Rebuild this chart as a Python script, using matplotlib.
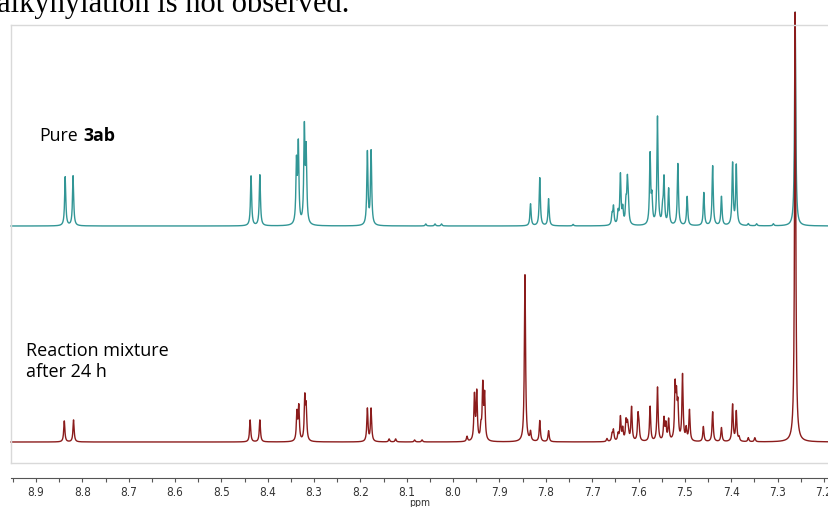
import numpy as np
import matplotlib.pyplot as plt

# peak lists: (ppm, height in px above the baseline)
pure_ppm = [8.837, 8.820, 8.436, 8.417, 8.338, 8.334, 8.321, 8.317, 8.185, 8.177,
            8.059, 8.039, 8.025, 7.833, 7.813, 7.794, 7.741,
            7.657, 7.654, 7.644, 7.639, 7.634, 7.627, 7.624, 7.622,
            7.575, 7.571, 7.559, 7.548, 7.545, 7.535, 7.515, 7.495,
            7.459, 7.440, 7.421, 7.397, 7.389, 7.363, 7.345, 7.309, 7.262]
pure_height = [49, 50, 50, 51, 60, 78, 94, 72, 73, 74,
               2, 2, 2, 22, 48, 27, 1.5,
               10, 18, 12, 50, 15, 20, 40, 18,
               70, 25, 108, 14, 46, 36, 62, 29,
               33, 60, 29, 62, 60, 2, 2, 2, 214]

mix_ppm = [8.839, 8.819, 8.438, 8.417, 8.337, 8.333, 8.320, 8.317, 8.185, 8.177,
           8.138, 8.124, 8.083, 8.067, 7.970, 7.954, 7.949, 7.940, 7.936, 7.932,
           7.845, 7.833, 7.813, 7.794,
           7.668, 7.657, 7.654, 7.644, 7.639, 7.634, 7.627, 7.624, 7.622,
           7.615, 7.601, 7.599, 7.575, 7.559, 7.545, 7.541, 7.535,
           7.521, 7.518, 7.515, 7.505, 7.497, 7.490,
           7.460, 7.440, 7.421, 7.397, 7.389, 7.383, 7.363, 7.349, 7.262]
mix_height = [21, 22, 22, 22, 28, 34, 42, 32, 33, 33,
              3, 3, 2, 2, 5, 45, 48, 12, 54, 44,
              167, 9, 21, 11,
              3, 7, 11, 7, 24, 12, 19, 14, 9,
              34, 25, 12, 35, 54, 22, 16, 21,
              52, 38, 32, 66, 12, 31,
              15, 30, 14, 37, 30, 4, 4, 4, 430]

tick_ppm = [8.9, 8.8, 8.7, 8.6, 8.5, 8.4, 8.3, 8.2, 8.1, 8.0,
            7.9, 7.8, 7.7, 7.6, 7.5, 7.4, 7.3, 7.2]

pure_base = 237
mix_base = 21
hwhm = 0.0015
x_left, x_right = 8.954, 7.189

W, H = 829, 507


def spectrum(x, centers, heights, w):
    y = np.zeros_like(x)
    for c, h in zip(centers, heights):
        y += h * w**2 / ((x - c)**2 + w**2)
    return y


ppm = np.linspace(x_right, x_left, 8000)

fig = plt.figure(figsize=(W / 100, H / 100), dpi=100)

ax = fig.add_axes([11 / W, 1 - 463 / H, 818 / W, 438 / H])
ax.plot(ppm, pure_base + spectrum(ppm, pure_ppm, pure_height, hwhm),
        color='#329696', lw=1.0, clip_on=False)
ax.plot(ppm, mix_base + spectrum(ppm, mix_ppm, mix_height, hwhm),
        color='#8b1c1c', lw=1.0, clip_on=False)
ax.set_xticks([])
ax.set_yticks([])
ax.set_xlim(x_left, x_right)
ax.set_ylim(0, 438)
for s in ['left', 'top', 'bottom']:
    ax.spines[s].set_color('#d9d9d9')
    ax.spines[s].set_linewidth(1.0)
ax.spines['right'].set_visible(False)

# ppm scale
ax2 = fig.add_axes([11 / W, 1 - 478 / H, 818 / W, 0.01])
ax2.set_yticks([])
for s in ['left', 'top', 'right']:
    ax2.spines[s].set_visible(False)
ax2.patch.set_visible(False)
ax2.spines['bottom'].set_color('#555555')
ax2.set_xticks(tick_ppm)
ax2.set_xticklabels([f'{t:.1f}' for t in tick_ppm])
ax2.set_xticks([t + 0.05 for t in tick_ppm], minor=True)
ax2.set_xlim(x_left, x_right)
ax2.tick_params(axis='x', which='both', direction='out', length=3, width=0.8,
                color='#555555', labelsize=8.5, labelcolor='#333333', pad=3)
for lab in ax2.get_xticklabels():
    lab.set_fontstretch('condensed')
fig.text(420 / W, 1 - 503 / H, 'ppm', ha='center', va='center',
         fontsize=7.5, color='#333333', fontstretch='condensed')

# labels
fig.text(39 / W, 1 - 141 / H, 'Pure', family='Open Sans', fontsize=12.8,
         va='baseline', ha='left')
fig.text(83 / W, 1 - 141 / H, '3ab', family='Open Sans', fontsize=12.8,
         fontweight='bold', va='baseline', ha='left')
fig.text(26 / W, 1 - 356 / H, 'Reaction mixture', family='Open Sans',
         fontsize=13, va='baseline', ha='left')
fig.text(26 / W, 1 - 377 / H, 'after 24 h', family='Open Sans',
         fontsize=13, va='baseline', ha='left')

# cut-off sentence from the page above the figure
fig.text(-3 / W, 1 - 12 / H, 'alkynylation is not observed.',
         family='Liberation Serif', fontsize=22, va='baseline', ha='left')

fig.savefig('out.png', dpi=100)
